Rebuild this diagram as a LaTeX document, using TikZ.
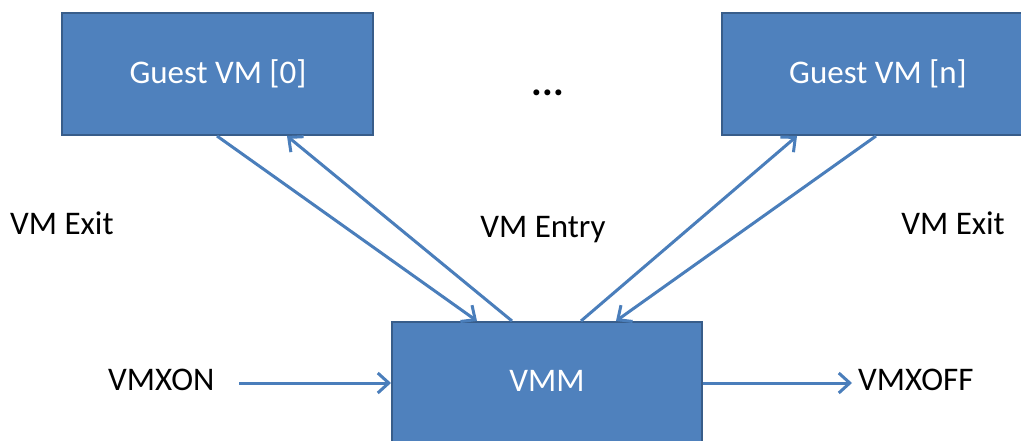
\documentclass[tikz,border=0pt]{standalone}
\usepackage{fontspec}
\setmainfont{Carlito}
\usetikzlibrary{arrows.meta}
\definecolor{boxfill}{HTML}{4F81BD}
\definecolor{boxline}{HTML}{385D8A}
\definecolor{arrowcol}{HTML}{4A7EBB}
\tikzset{
  vmbox/.style={draw=boxline, line width=2pt, fill=boxfill, inner sep=0pt},
  boxtxt/.style={text=white, inner sep=0pt, anchor=base, font=\fontsize{33}{38}\selectfont},
  lbl/.style={text=black, inner sep=0pt, font=\fontsize{33}{38}\selectfont},
  conn/.style={draw=arrowcol, line width=3pt, -{Straight Barb[length=11pt,width=20pt,line width=3pt]}}
}
\begin{document}
\begin{tikzpicture}[x=1pt,y=-1pt]
\useasboundingbox (0,0) rectangle (1021,441);
\clip (0,0) rectangle (1021,441);
\node[vmbox, minimum width=311pt, minimum height=122pt] (g0) at (217.5,74) {};
\node[boxtxt] (g0t) at (218,84) {Guest VM [0]};
\node[vmbox, minimum width=312pt, minimum height=122pt] (gn) at (878,74) {};
\node[boxtxt] (gnt) at (878,84) {Guest VM [n]};
\node[vmbox, minimum width=310pt, minimum height=124pt] (vmm) at (547,384) {};
\node[boxtxt] (vmmt) at (547,391) {VMM};
\node[lbl, anchor=base, font=\bfseries\fontsize{40}{44}\selectfont] (dots) at (548,96) {...};
\node[lbl, anchor=base west] (exitl) at (10,235) {VM Exit};
\node[lbl, anchor=base] (entry) at (543,237) {VM Entry};
\node[lbl, anchor=base east] (exitr) at (1005,235) {VM Exit};
\node[lbl, anchor=base west] (on) at (108,390) {VMXON};
\node[lbl, anchor=base west] (off) at (858,390) {VMXOFF};
\coordinate (onend) at (239,383);
\coordinate (offend) at (852,383);
\draw[conn] ([xshift=156pt]g0.south west) -- ([xshift=86pt]vmm.north west);
\draw[conn] ([xshift=121pt]vmm.north west) -- ([xshift=226pt]g0.south west);
\draw[conn] ([xshift=190pt]vmm.north west) -- ([xshift=76pt]gn.south west);
\draw[conn] ([xshift=155pt]gn.south west) -- ([xshift=225pt]vmm.north west);
\draw[conn] (onend) -- (vmm.west |- onend);
\draw[conn] (vmm.east |- offend) -- (offend);
\end{tikzpicture}
\end{document}
